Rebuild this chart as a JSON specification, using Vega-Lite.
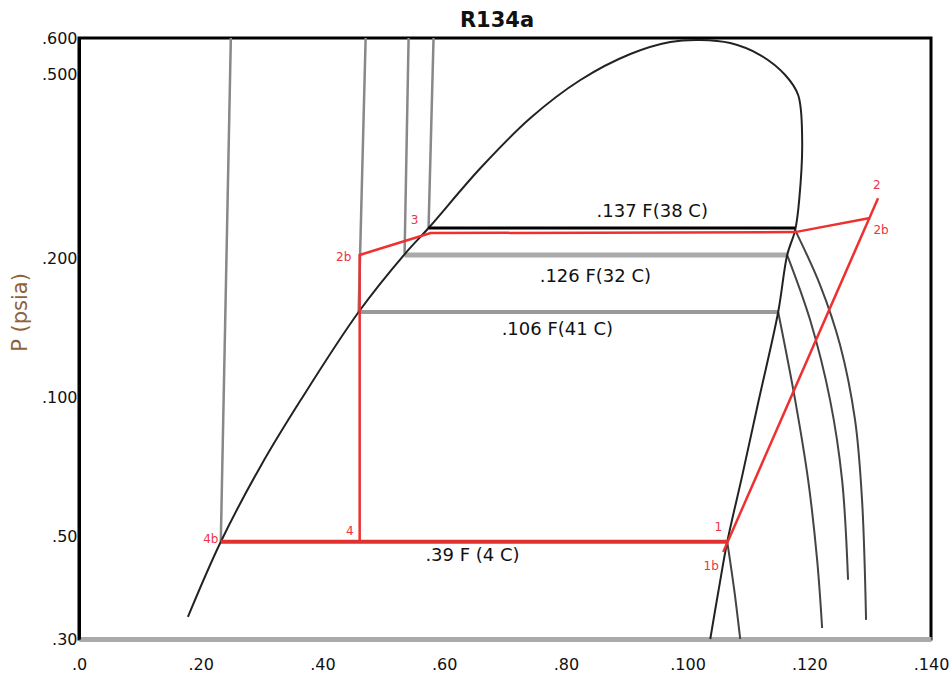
{
  "$schema": "https://vega.github.io/schema/vega-lite/v6.json",
  "width": 852,
  "height": 601,
  "autosize": {"type": "none"},
  "padding": {"left": 79, "top": 38, "right": 20, "bottom": 40},
  "background": "white",
  "title": {"text": "R134a", "font": "DejaVu Sans", "fontSize": 21, "fontWeight": "bold", "color": "#111111", "offset": -1, "dx": -8},
  "config": {"view": {"stroke": "black", "strokeWidth": 3}, "font": "DejaVu Sans"},
  "datasets": {
    "lines": [
      {"s": "dome", "id": "dome", "o": 1, "h": 17.9, "p": 33.5},
      {"s": "dome", "id": "dome", "o": 2, "h": 23.3, "p": 48.7},
      {"s": "dome", "id": "dome", "o": 3, "h": 29.87, "p": 71.1},
      {"s": "dome", "id": "dome", "o": 4, "h": 36.43, "p": 98.7},
      {"s": "dome", "id": "dome", "o": 5, "h": 45.95, "p": 153.1},
      {"s": "dome", "id": "dome", "o": 6, "h": 53.67, "p": 205.4},
      {"s": "dome", "id": "dome", "o": 7, "h": 57.44, "p": 232.7},
      {"s": "dome", "id": "dome", "o": 8, "h": 65.98, "p": 313.8},
      {"s": "dome", "id": "dome", "o": 9, "h": 74.18, "p": 402.6},
      {"s": "dome", "id": "dome", "o": 10, "h": 82.39, "p": 486.6},
      {"s": "dome", "id": "dome", "o": 11, "h": 90.6, "p": 553.9},
      {"s": "dome", "id": "dome", "o": 12, "h": 97.16, "p": 588.1},
      {"s": "dome", "id": "dome", "o": 13, "h": 102.08, "p": 594.1},
      {"s": "dome", "id": "dome", "o": 14, "h": 107.01, "p": 585},
      {"s": "dome", "id": "dome", "o": 15, "h": 111.93, "p": 551.1},
      {"s": "dome", "id": "dome", "o": 16, "h": 116.04, "p": 498.9},
      {"s": "dome", "id": "dome", "o": 17, "h": 118.17, "p": 451.5},
      {"s": "dome", "id": "dome", "o": 18, "h": 118.83, "p": 360.8},
      {"s": "dome", "id": "dome", "o": 19, "h": 118.34, "p": 267.5},
      {"s": "dome", "id": "dome", "o": 20, "h": 117.68, "p": 230.3},
      {"s": "dome", "id": "dome", "o": 21, "h": 116.37, "p": 203.4},
      {"s": "dome", "id": "dome", "o": 22, "h": 114.89, "p": 153.1},
      {"s": "dome", "id": "dome", "o": 23, "h": 111.7, "p": 98.7},
      {"s": "dome", "id": "dome", "o": 24, "h": 109.0, "p": 67.9},
      {"s": "dome", "id": "dome", "o": 25, "h": 106.52, "p": 48.7},
      {"s": "dome", "id": "dome", "o": 26, "h": 105.1, "p": 38.3},
      {"s": "dome", "id": "dome", "o": 27, "h": 103.73, "p": 30},

      {"s": "liq", "id": "L39", "o": 1, "h": 24.95, "p": 600},
      {"s": "liq", "id": "L39", "o": 2, "h": 23.3, "p": 48.7},
      {"s": "liq", "id": "L106", "o": 1, "h": 47.1, "p": 600},
      {"s": "liq", "id": "L106", "o": 2, "h": 45.95, "p": 153.1},
      {"s": "liq", "id": "L126", "o": 1, "h": 54.16, "p": 600},
      {"s": "liq", "id": "L126", "o": 2, "h": 53.5, "p": 205},
      {"s": "liq", "id": "L137", "o": 1, "h": 58.26, "p": 600},
      {"s": "liq", "id": "L137", "o": 2, "h": 57.44, "p": 232.7},

      {"s": "sup", "id": "S137", "o": 1, "h": 117.68, "p": 230.3},
      {"s": "sup", "id": "S137", "o": 2, "h": 121.78, "p": 175.1},
      {"s": "sup", "id": "S137", "o": 3, "h": 125.06, "p": 129.9},
      {"s": "sup", "id": "S137", "o": 4, "h": 127.52, "p": 89.4},
      {"s": "sup", "id": "S137", "o": 5, "h": 128.67, "p": 60},
      {"s": "sup", "id": "S137", "o": 6, "h": 129.33, "p": 33},
      {"s": "sup", "id": "S126", "o": 1, "h": 116.37, "p": 203.4},
      {"s": "sup", "id": "S126", "o": 2, "h": 120.14, "p": 147.1},
      {"s": "sup", "id": "S126", "o": 3, "h": 123.42, "p": 98.7},
      {"s": "sup", "id": "S126", "o": 4, "h": 125.39, "p": 66.3},
      {"s": "sup", "id": "S126", "o": 5, "h": 126.37, "p": 40.3},
      {"s": "sup", "id": "S106", "o": 1, "h": 114.89, "p": 153.1},
      {"s": "sup", "id": "S106", "o": 2, "h": 117.68, "p": 98.7},
      {"s": "sup", "id": "S106", "o": 3, "h": 119.81, "p": 66.3},
      {"s": "sup", "id": "S106", "o": 4, "h": 121.29, "p": 44.5},
      {"s": "sup", "id": "S106", "o": 5, "h": 122.11, "p": 31.7},
      {"s": "sup", "id": "S39", "o": 1, "h": 106.52, "p": 48.7},
      {"s": "sup", "id": "S39", "o": 2, "h": 107.67, "p": 38.3},
      {"s": "sup", "id": "S39", "o": 3, "h": 108.65, "p": 30},

      {"s": "h137", "id": "H137", "o": 1, "h": 57.44, "p": 232.7},
      {"s": "h137", "id": "H137", "o": 2, "h": 117.68, "p": 232.7},
      {"s": "h126", "id": "H126", "o": 1, "h": 53.5, "p": 203.4},
      {"s": "h126", "id": "H126", "o": 2, "h": 116.37, "p": 203.4},
      {"s": "h106", "id": "H106", "o": 1, "h": 45.95, "p": 153.1},
      {"s": "h106", "id": "H106", "o": 2, "h": 114.89, "p": 153.1},

      {"s": "redlow", "id": "R1", "o": 1, "h": 23.3, "p": 48.7},
      {"s": "redlow", "id": "R1", "o": 2, "h": 106.52, "p": 48.7},
      {"s": "red", "id": "R2", "o": 1, "h": 105.86, "p": 46.3},
      {"s": "red", "id": "R2", "o": 2, "h": 131.3, "p": 270},
      {"s": "red", "id": "R3", "o": 1, "h": 129.98, "p": 244.6},
      {"s": "red", "id": "R3", "o": 2, "h": 117.68, "p": 228},
      {"s": "red", "id": "R3", "o": 3, "h": 57.77, "p": 226.9},
      {"s": "red", "id": "R3", "o": 4, "h": 46.12, "p": 203.4},
      {"s": "red", "id": "R3", "o": 5, "h": 46.12, "p": 48.7}
    ],
    "isoLabels": [
      {"t": ".137 F(38 C)", "h": 94.2, "p": 252},
      {"t": ".126 F(32 C)", "h": 84.85, "p": 182},
      {"t": ".106 F(41 C)", "h": 78.6, "p": 140},
      {"t": ".39 F (4 C)", "h": 64.66, "p": 45.4}
    ],
    "stateLabels": [
      {"t": "4b", "h": 21.66, "p": 49.4},
      {"t": "4", "h": 44.48, "p": 51.4},
      {"t": "1", "h": 105.04, "p": 52.4},
      {"t": "1b", "h": 103.89, "p": 43.2},
      {"t": "2", "h": 131.1, "p": 288.3},
      {"t": "2b", "h": 131.8, "p": 230.3},
      {"t": "3", "h": 55.15, "p": 242.1},
      {"t": "2b", "h": 43.5, "p": 201.3}
    ]
  },
  "encoding": {
    "x": {
      "field": "h", "type": "quantitative",
      "scale": {"domain": [0, 140], "nice": false, "zero": false},
      "axis": {
        "values": [0, 20, 40, 60, 80, 100, 120, 140],
        "labelExpr": "'.' + datum.value",
        "title": null, "grid": false, "ticks": false, "tickSize": 0,
        "labelPadding": 17, "labelFlush": false, "labelOverlap": false,
        "domainColor": "#aaaaaa", "domainWidth": 5,
        "labelFont": "DejaVu Sans", "labelFontSize": 16, "labelColor": "#111111"
      }
    },
    "y": {
      "field": "p", "type": "quantitative",
      "scale": {"type": "log", "domain": [30, 600], "nice": false, "zero": false},
      "axis": {
        "values": [30, 50, 100, 200, 500, 600],
        "labelExpr": "'.' + datum.value",
        "title": "P (psia)", "titleFont": "DejaVu Sans", "titleFontSize": 21, "titleFontWeight": "normal",
        "titleColor": "#8f6238", "titleX": -59, "titleY": 274, "titleAngle": 270,
        "titleAlign": "center", "titleBaseline": "middle",
        "grid": false, "ticks": false, "tickSize": 0,
        "labelPadding": 2, "labelOverlap": false,
        "domainColor": "black", "domainWidth": 3,
        "labelFont": "DejaVu Sans", "labelFontSize": 16, "labelColor": "#111111"
      }
    }
  },
  "layer": [
    {
      "data": {"name": "lines"},
      "transform": [{"filter": "datum.s == 'h126'"}],
      "mark": {"type": "line", "color": "#aaaaaa", "strokeWidth": 5},
      "encoding": {"detail": {"field": "id"}, "order": {"field": "o"}}
    },
    {
      "data": {"name": "lines"},
      "transform": [{"filter": "datum.s == 'h106'"}],
      "mark": {"type": "line", "color": "#999999", "strokeWidth": 4},
      "encoding": {"detail": {"field": "id"}, "order": {"field": "o"}}
    },
    {
      "data": {"name": "lines"},
      "transform": [{"filter": "datum.s == 'liq'"}],
      "mark": {"type": "line", "color": "#888888", "strokeWidth": 2.5},
      "encoding": {"detail": {"field": "id"}, "order": {"field": "o"}}
    },
    {
      "data": {"name": "lines"},
      "transform": [{"filter": "datum.s == 'sup'"}],
      "mark": {"type": "line", "color": "#444444", "strokeWidth": 2, "interpolate": "catmull-rom"},
      "encoding": {"detail": {"field": "id"}, "order": {"field": "o"}}
    },
    {
      "data": {"name": "lines"},
      "transform": [{"filter": "datum.s == 'dome'"}],
      "mark": {"type": "line", "color": "#222222", "strokeWidth": 2, "interpolate": "catmull-rom"},
      "encoding": {"detail": {"field": "id"}, "order": {"field": "o"}}
    },
    {
      "data": {"name": "lines"},
      "transform": [{"filter": "datum.s == 'h137'"}],
      "mark": {"type": "line", "color": "#000000", "strokeWidth": 3},
      "encoding": {"detail": {"field": "id"}, "order": {"field": "o"}}
    },
    {
      "data": {"name": "lines"},
      "transform": [{"filter": "datum.s == 'red'"}],
      "mark": {"type": "line", "color": "#ee3030", "strokeWidth": 2.5},
      "encoding": {"detail": {"field": "id"}, "order": {"field": "o"}}
    },
    {
      "data": {"name": "lines"},
      "transform": [{"filter": "datum.s == 'redlow'"}],
      "mark": {"type": "line", "color": "#e03030", "strokeWidth": 4},
      "encoding": {"detail": {"field": "id"}, "order": {"field": "o"}}
    },
    {
      "data": {"name": "isoLabels"},
      "mark": {"type": "text", "font": "DejaVu Sans", "fontSize": 18, "color": "#111111", "align": "center", "baseline": "middle"},
      "encoding": {"text": {"field": "t"}}
    },
    {
      "data": {"name": "stateLabels"},
      "mark": {"type": "text", "font": "DejaVu Sans", "fontSize": 12, "color": "#ee3344", "align": "center", "baseline": "middle"},
      "encoding": {"text": {"field": "t"}}
    }
  ]
}
